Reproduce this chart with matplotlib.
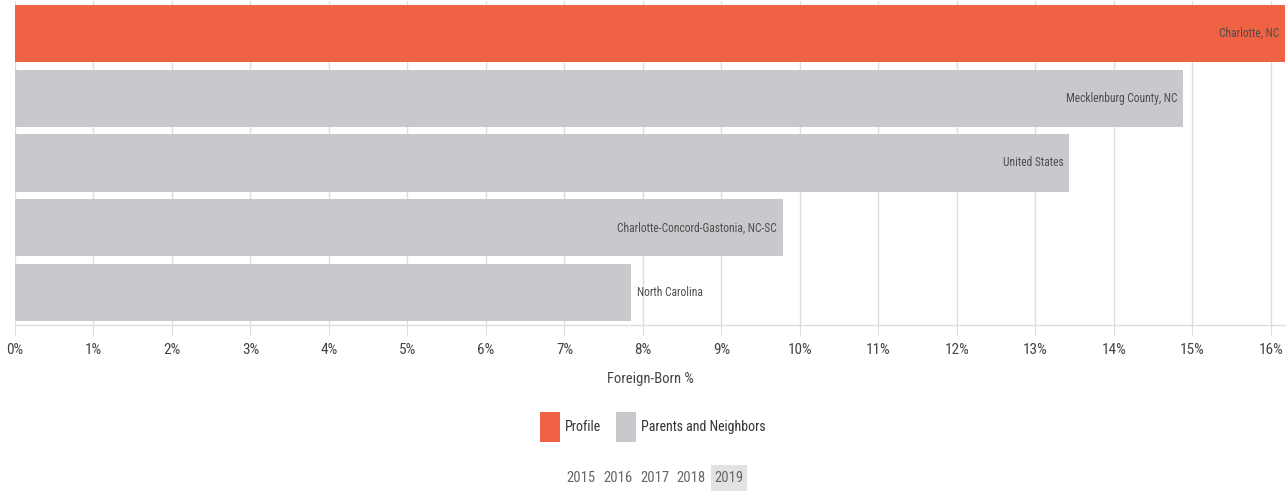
import matplotlib
matplotlib.use("Agg")
import matplotlib.pyplot as plt
from matplotlib.patches import Patch, Rectangle
from matplotlib import font_manager

names = {f.name for f in font_manager.fontManager.ttflist}
narrow = [n for n in ["Liberation Sans Narrow", "DejaVu Sans Condensed", "Roboto Condensed"] if n in names]
plt.rcParams['font.family'] = narrow + ["DejaVu Sans"]

categories = ["Charlotte, NC", "Mecklenburg County, NC", "United States",
              "Charlotte-Concord-Gastonia, NC-SC", "North Carolina"]
values = [16.18, 14.88, 13.43, 9.78, 7.85]
groups = ["Profile", "Parents and Neighbors", "Parents and Neighbors",
          "Parents and Neighbors", "Parents and Neighbors"]
label_inside = [True, True, True, True, False]
tick_values = list(range(0, 17))
tick_labels = [f"{v}%" for v in tick_values]
years = ["2015", "2016", "2017", "2018", "2019"]
selected_year = "2019"

colors = {"Profile": "#F06244", "Parents and Neighbors": "#C8C9CC"}

fig = plt.figure(figsize=(12.87, 4.91), dpi=100)
W, H = 1287, 491
ax = fig.add_axes([15 / W, 1 - 325 / H, 1270 / W, 324 / H])

ypos = list(range(len(categories)))
ax.barh(ypos, values, height=0.88, color=[colors[g] for g in groups], zorder=2)
for y, v, c, inside in zip(ypos, values, categories, label_inside):
    if inside:
        ax.text(v - 0.07, y, c, ha="right", va="center", fontsize=8.3, color="#4d4d4d", zorder=3)
    else:
        ax.text(v + 0.07, y, c, ha="left", va="center", fontsize=8.3, color="#4d4d4d", zorder=3)

ax.set_xlim(0, 16.18)
ax.set_ylim(len(categories) - 0.5, -0.5)
ax.set_xticks(tick_values)
ax.set_xticklabels(tick_labels, fontsize=11, color="#444444")
ax.set_yticks([])
ax.grid(axis="x", color="#DDDDDD", linewidth=1, zorder=0)
for s in ["top", "right", "left"]:
    ax.spines[s].set_visible(False)
ax.spines["bottom"].set_color("#DDDDDD")
ax.spines["bottom"].set_linewidth(1)
ax.tick_params(axis="x", length=7, color="#DDDDDD", pad=6)
ax.set_xlabel("Foreign-Born %", fontsize=10.5, color="#444444", labelpad=11)

handles = [Patch(facecolor=colors["Profile"]), Patch(facecolor=colors["Parents and Neighbors"])]
fig.legend(handles, ["Profile", "Parents and Neighbors"], loc="center",
           bbox_to_anchor=(652.5 / W, 1 - 427 / H), ncol=2, frameon=False,
           handlelength=1.44, handleheight=2.86, handletextpad=0.36, columnspacing=1.05,
           prop={"size": 10}, labelcolor="#333333")

xs = [581, 618, 655, 691, 729]
for x, yr in zip(xs, years):
    if yr == selected_year:
        fig.add_artist(Rectangle(((x - 18) / W, 0), 36 / W, 26 / H, transform=fig.transFigure,
                                 facecolor="#E2E2E2", edgecolor="none", zorder=0))
    fig.text(x / W, 1 - 478 / H, yr, ha="center", va="center", fontsize=10.5,
             color="#666666", zorder=2)

fig.savefig("out.png", dpi=100)
